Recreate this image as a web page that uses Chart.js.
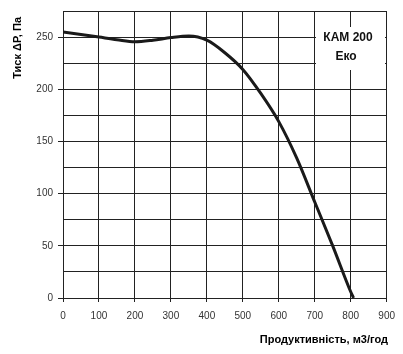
<!DOCTYPE html>
<html>
<head>
<meta charset="utf-8">
<script src="https://cdn.jsdelivr.net/npm/chart.js@4"></script>
<style>
    body { margin: 0; background: #fff; }
</style>
</head>
<body>
<canvas id="chart" width="403" height="354"></canvas>
<script>
// витрата повітря, м3/год
const capacity = [0, 50, 100, 150, 200, 250, 300, 350, 400, 450, 500, 550, 600, 650, 700, 750, 800, 808];
// тиск, Па
const pressure = [255, 252.5, 250, 247.5, 245.5, 247, 249.5, 251, 247, 235, 219, 196, 169, 134, 92, 50, 6, 0];

const xTitle = 'Продуктивність, м3/год';
const yTitle = 'Тиск ΔP, Па';
const modelName = ['КАМ 200', 'Еко'];

const FONT = '"Liberation Sans", Arial, sans-serif';
const $ = id => document.getElementById(id);

const labelsPlugin = {
    id: 'labels',
    beforeDatasetsDraw(chart) {
        const ctx = chart.ctx;
        ctx.save();
        // біла плашка з назвою моделі
        ctx.fillStyle = '#fff';
        ctx.fillRect(316, 27, 69, 43);
        ctx.fillStyle = '#111';
        ctx.textAlign = 'center';
        ctx.textBaseline = 'middle';
        ctx.font = 'bold 12px ' + FONT;
        ctx.fillText(modelName[0], 348, 38);
        ctx.fillText(modelName[1], 346, 57);
        ctx.restore();
    },
    afterDraw(chart) {
        const ctx = chart.ctx;
        ctx.save();
        ctx.fillStyle = '#000';
        ctx.font = 'bold 11px ' + FONT;
        // підпис осі X
        ctx.textAlign = 'right';
        ctx.textBaseline = 'middle';
        ctx.fillText(xTitle, 388, 340);
        // підпис осі Y
        ctx.translate(18, 17);
        ctx.rotate(-Math.PI / 2);
        ctx.fillText(yTitle, 0, 0);
        ctx.restore();
    }
};

new Chart($('chart').getContext('2d'), {
    type: 'line',
    data: {
        datasets: [{
            data: capacity.map((x, i) => ({x, y: pressure[i]})),
            borderColor: '#1a1a1a',
            borderWidth: 3,
            pointRadius: 0,
            cubicInterpolationMode: 'monotone',
            fill: false
        }]
    },
    options: {
        responsive: false,
        devicePixelRatio: 1,
        animation: false,
        layout: {padding: {top: 8, right: 11, left: 0, bottom: 0}},
        plugins: {legend: {display: false}, tooltip: {enabled: false}},
        scales: {
            x: {
                type: 'linear',
                min: 0,
                max: 900,
                afterFit: s => { s.height = 56; },
                ticks: {stepSize: 100, color: '#333', font: {family: FONT, size: 10}, padding: 8, maxRotation: 0, autoSkip: false},
                grid: {color: '#222', lineWidth: 1, tickLength: 4, tickColor: '#222'},
                border: {color: '#222', width: 1}
            },
            y: {
                min: 0,
                max: 275,
                afterFit: s => { s.width = 63; },
                ticks: {
                    stepSize: 25,
                    autoSkip: false,
                    color: '#333',
                    font: {family: FONT, size: 10},
                    padding: 5,
                    callback: v => v % 50 === 0 ? v : ''
                },
                grid: {
                    color: '#222',
                    lineWidth: 1,
                    tickLength: 5,
                    tickColor: c => c.tick && c.tick.value % 50 === 0 ? '#222' : 'rgba(0,0,0,0)'
                },
                border: {color: '#222', width: 1}
            }
        }
    },
    plugins: [labelsPlugin]
});
</script>
</body>
</html>
